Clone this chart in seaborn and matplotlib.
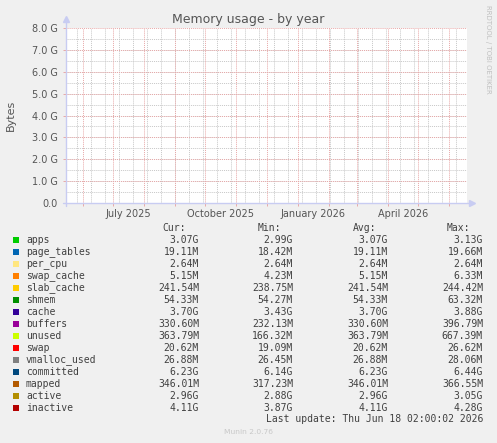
import numpy as np
import pandas as pd
import matplotlib
matplotlib.use("Agg")
import matplotlib.pyplot as plt
import matplotlib.dates as mdates
from matplotlib.patches import Rectangle
import seaborn as sns

# legend table (munin memory plugin)
names = ['apps', 'page_tables', 'per_cpu', 'swap_cache', 'slab_cache', 'shmem',
         'cache', 'buffers', 'unused', 'swap', 'vmalloc_used', 'committed',
         'mapped', 'active', 'inactive']
colors = ['#00CC00', '#0066B3', '#FFE680', '#FF8000', '#FFCC00', '#008F00',
          '#330099', '#990099', '#CCFF00', '#FF0000', '#808080', '#00487D',
          '#B35A00', '#B38F00', '#B30000']
cur = ['3.07G', '19.11M', '2.64M', '5.15M', '241.54M', '54.33M', '3.70G', '330.60M',
       '363.79M', '20.62M', '26.88M', '6.23G', '346.01M', '2.96G', '4.11G']
mins = ['2.99G', '18.42M', '2.64M', '4.23M', '238.75M', '54.27M', '3.43G', '232.13M',
        '166.32M', '19.09M', '26.45M', '6.14G', '317.23M', '2.88G', '3.87G']
avgs = ['3.07G', '19.11M', '2.64M', '5.15M', '241.54M', '54.33M', '3.70G', '330.60M',
        '363.79M', '20.62M', '26.88M', '6.23G', '346.01M', '2.96G', '4.11G']
maxs = ['3.13G', '19.66M', '2.64M', '6.33M', '244.42M', '63.32M', '3.88G', '396.79M',
        '667.39M', '26.62M', '28.06M', '6.44G', '366.55M', '3.05G', '4.28G']
headers = ['Cur:', 'Min:', 'Avg:', 'Max:']

x_start, x_end = '2025-05-15', '2026-06-19'
y_ticks = [0, 1, 2, 3, 4, 5, 6, 7, 8]
y_labels = ['0.0', '1.0 G', '2.0 G', '3.0 G', '4.0 G', '5.0 G', '6.0 G', '7.0 G', '8.0 G']
label_months = ['2025-07-01', '2025-10-01', '2026-01-01', '2026-04-01']
x_labels = ['July 2025', 'October 2025', 'January 2026', 'April 2026']
last_update = 'Last update: Thu Jun 18 02:00:02 2026'

W, H = 497, 443
sns.set_theme(style='white')
plt.rcParams['font.family'] = ['DejaVu Sans']


def fx(x):
    return x / W


def fy(y):
    return 1 - y / H


fig = plt.figure(figsize=(W / 100, H / 100), dpi=100, facecolor='#F0F0F0')
ax = fig.add_axes([fx(66), fy(203), (467 - 66) / W, 175 / H])
ax.set_facecolor('white')

start, end = pd.Timestamp(x_start), pd.Timestamp(x_end)
ax.set_xlim(mdates.date2num(start), mdates.date2num(end))
ax.set_ylim(0, 8)

dot = (0, (1, 1))
grid_gray = '#C8C8C8'
grid_red = '#E8A8A8'

# minor grid: every two weeks / half gig
weeks = pd.date_range('2025-05-26', end, freq='14D')
ax.vlines(mdates.date2num(weeks.to_pydatetime()), 0, 8, colors=grid_gray,
          linestyles=dot, linewidth=0.7)
ax.hlines(np.arange(0.5, 8, 0.5), mdates.date2num(start), mdates.date2num(end),
          colors=grid_gray, linestyles=dot, linewidth=0.7)
# major grid: months / gig
months = pd.date_range('2025-06-01', end, freq='MS')
ax.vlines(mdates.date2num(months.to_pydatetime()), 0, 8, colors=grid_red,
          linestyles=dot, linewidth=0.7)
ax.hlines(y_ticks[1:], mdates.date2num(start), mdates.date2num(end),
          colors=grid_red, linestyles=dot, linewidth=0.7)

for s in ax.spines.values():
    s.set_visible(False)

# axes with arrows
axis_col = '#C8CCF2'
ax.plot([0, 0], [-0.015, 1.034], color=axis_col, lw=1, transform=ax.transAxes, clip_on=False)
ax.plot([-0.007, 1.01], [0, 0], color=axis_col, lw=1, transform=ax.transAxes, clip_on=False)
ax.plot([0], [1.05], marker='^', ms=4, color=axis_col, transform=ax.transAxes, clip_on=False)
ax.plot([1.0125], [0], marker='>', ms=4, color=axis_col, transform=ax.transAxes, clip_on=False)

ax.set_yticks(y_ticks)
ax.set_yticklabels(y_labels)
label_pos = [mdates.date2num(pd.Timestamp(m) + pd.Timedelta(days=15)) for m in label_months]
ax.set_xticks(label_pos)
ax.set_xticklabels(x_labels)
ax.set_xticks(mdates.date2num(months.to_pydatetime()), minor=True)
ax.tick_params(axis='x', which='major', length=0, pad=4, labelsize=7, labelcolor='#555555')
ax.tick_params(axis='x', which='minor', length=2, color=grid_red, width=0.7, bottom=True)
ax.tick_params(axis='y', which='major', length=2, color=grid_red, width=0.7, pad=4,
               labelsize=7, labelcolor='#555555', left=True)
ax.grid(False)

fig.text(fx(248), fy(19), 'Memory usage - by year', ha='center', va='center',
         fontsize=9, color='#555555')
fig.text(fx(11), fy(115), 'Bytes', rotation=90, ha='center', va='center',
         fontsize=8, color='#555555')
fig.text(fx(488), fy(5), 'RRDTOOL / TOBI OETIKER', rotation=270, ha='center', va='top',
         fontsize=5, color='#C0C0C0')

mono = dict(family='DejaVu Sans Mono', fontsize=7, color='#404040', va='center')
head_right = [186, 281, 376, 470]
val_right = [199, 293, 388, 483]
for h, xr in zip(headers, head_right):
    fig.text(fx(xr), fy(228), h, ha='right', **mono)

row0, step = 240, 12
for i, name in enumerate(names):
    y = row0 + i * step
    fig.patches.append(Rectangle((fx(13), fy(y + 3)), 6 / W, 6 / H, transform=fig.transFigure,
                                 facecolor=colors[i], edgecolor='none'))
    fig.text(fx(26), fy(y), name, ha='left', **mono)
    for col, xr in zip([cur, mins, avgs, maxs], val_right):
        fig.text(fx(xr), fy(y), col[i], ha='right', **mono)

fig.text(fx(483), fy(419.5), last_update, ha='right', **mono)
fig.text(fx(248), fy(432), 'Munin 2.0.76', ha='center', va='center', fontsize=5.4,
         color='#C8C8C8')

fig.savefig('out.png', dpi=100, facecolor=fig.get_facecolor())
